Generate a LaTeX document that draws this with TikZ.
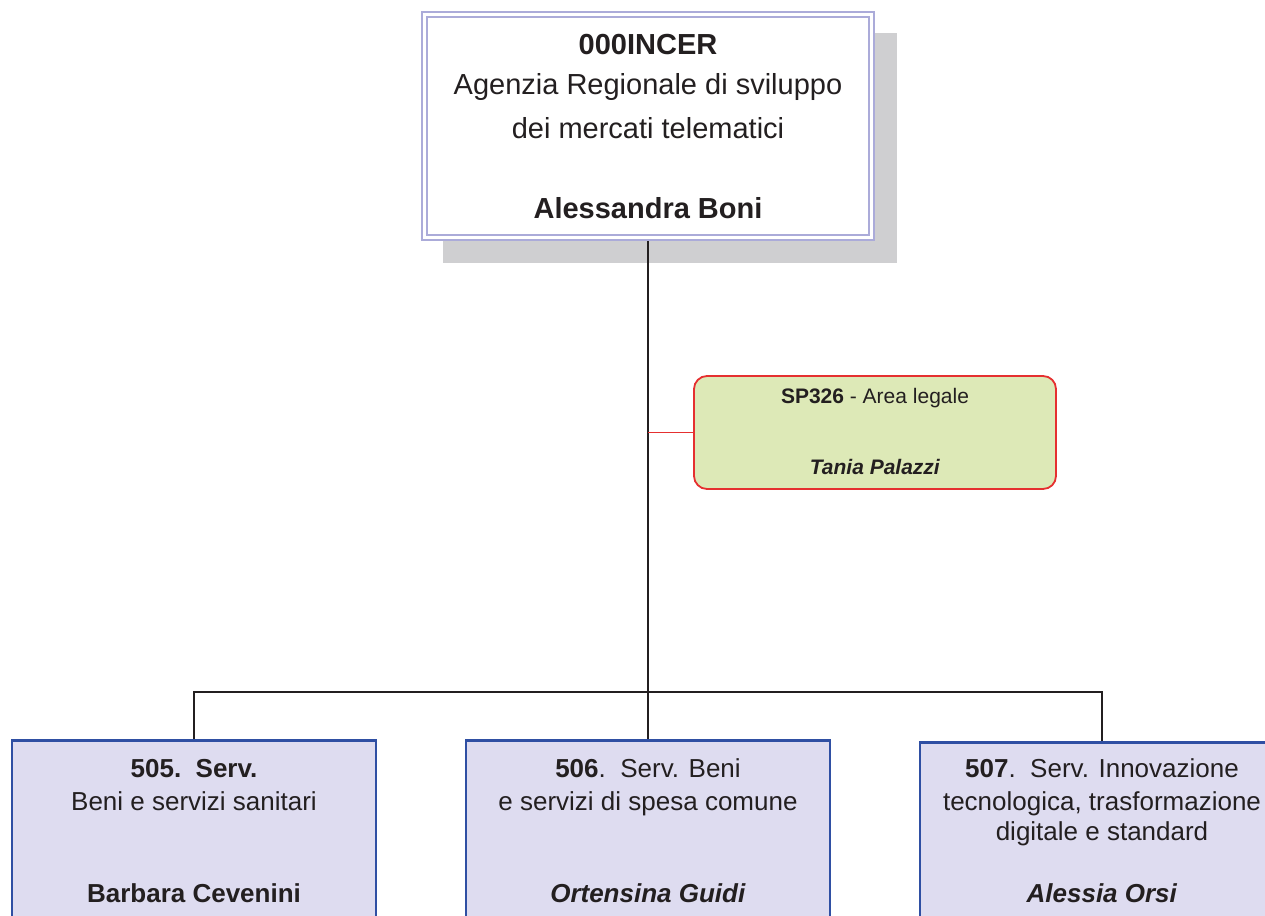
\documentclass[tikz,border=0pt]{standalone}
\usepackage{fontspec}
\setmainfont{Liberation Sans}
\definecolor{lav}{HTML}{ABABD9}
\definecolor{shad}{HTML}{CFCFD1}
\definecolor{gfill}{HTML}{DDE9B7}
\definecolor{rline}{HTML}{E53030}
\definecolor{bline}{HTML}{2F4FA3}
\definecolor{bfill}{HTML}{DEDCF0}
\definecolor{txt}{HTML}{231F20}
\begin{document}
\begin{tikzpicture}[x=1pt,y=1pt,
  conn/.style={draw=txt,line width=1.3pt},
  unitbox/.style={draw=bline,fill=bfill,line width=2.6pt,inner sep=0pt},
  lbl/.style={text=txt,inner sep=0pt,anchor=base},
  big/.style={font=\fontsize{29}{33}\selectfont},
  mid/.style={font=\fontsize{26}{30}\selectfont},
  sml/.style={font=\fontsize{21}{25}\selectfont}]
\useasboundingbox (0,0) rectangle (1265,-915);
\clip (0,0) rectangle (1265,-915);
% top box shadow and box
\fill[shad] (443,-33) rectangle (897,-263);
\node[draw=lav,fill=white,line width=2.4pt,inner sep=0pt,minimum width=452pt,minimum height=228pt] (top) at (648,-126) {};
\draw[lav,line width=1.6pt] (427,-17) rectangle (869,-235);
\node[lbl,big] (t1) at (648,-55) {\textbf{000INCER}};
\node[lbl,big] (t2) at (648,-95) {Agenzia Regionale di sviluppo};
\node[lbl,big] (t3) at (648,-138) {dei mercati telematici};
\node[lbl,big] (t4) at (648,-218) {\textbf{Alessandra Boni}};
% staff box
\node[draw=rline,fill=gfill,line width=1.8pt,rounded corners=13pt,inner sep=0pt,minimum width=362pt,minimum height=113pt] (sp) at (875,-432.5) {};
\node[lbl,sml] (s1) at (875,-403) {\textbf{SP326} - Area legale};
\node[lbl,sml] (s2) at (875,-474) {\textbf{\itshape Tania Palazzi}};
% unit boxes
\node[unitbox,minimum width=364pt,minimum height=240pt,anchor=north] (u1) at (194,-739) {};
\node[unitbox,minimum width=364pt,minimum height=240pt,anchor=north] (u2) at (648,-739) {};
\node[unitbox,minimum width=364pt,minimum height=240pt,anchor=north] (u3) at (1102,-741) {};
\node[lbl,mid] (a1) at (194,-777) {\textbf{505.\ \ Serv.}};
\node[lbl,mid] (a2) at (194,-810) {Beni e servizi sanitari};
\node[lbl,mid] (a3) at (194,-902) {\textbf{Barbara Cevenini}};
\node[lbl,mid] (b1) at (648,-777) {\textbf{506}.\ \ Serv. Beni};
\node[lbl,mid] (b2) at (648,-810) {e servizi di spesa comune};
\node[lbl,mid] (b3) at (648,-902) {\textbf{\itshape Ortensina Guidi}};
\node[lbl,mid] (c1) at (1102,-777) {\textbf{507}.\ \ Serv. Innovazione};
\node[lbl,mid] (c2) at (1102,-810) {tecnologica, trasformazione};
\node[lbl,mid] (c3) at (1102,-840) {digitale e standard};
\node[lbl,mid] (c4) at (1102,-902) {\textbf{\itshape Alessia Orsi}};
% connectors
\coordinate (bus) at (648,-692);
\coordinate (tap) at (648,-432.5);
\draw[conn] (top.south) -- (bus);
\draw[draw=rline,line width=1.5pt] (tap) -- (sp.west);
\draw[conn] (u1.north) |- (bus) -| (u3.north);
\draw[conn] (bus) -- (u2.north);
\end{tikzpicture}
\end{document}
